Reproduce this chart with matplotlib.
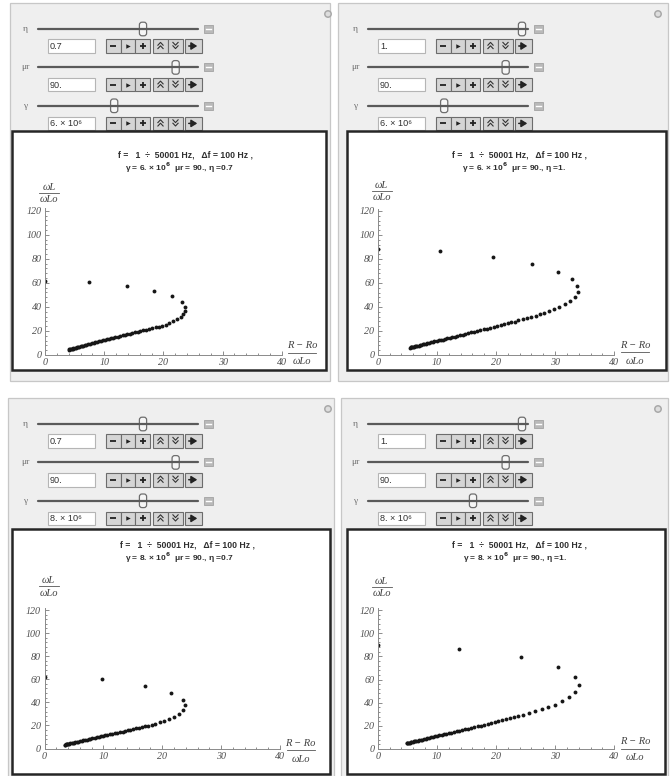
import numpy as np
import matplotlib
matplotlib.use("Agg")
import matplotlib.pyplot as plt
from matplotlib.patches import Rectangle, FancyBboxPatch, Circle

# ---- parameter values of the four panels ----
eta_vals = [0.7, 1.0, 0.7, 1.0]
eta_text = ["0.7", "1.", "0.7", "1."]
mur_vals = [90.0, 90.0, 90.0, 90.0]
mur_text = ["90.", "90.", "90.", "90."]
gamma_vals = [6e6, 6e6, 8e6, 8e6]
gamma_mant = ["6.", "6.", "8.", "8."]

# ---- computed points (R-Ro)/wLo , wL/wLo ----
tl_x = [4.0, 4.1, 4.2, 4.35, 4.5, 4.65, 4.8, 5.0, 5.2, 5.4, 5.6, 5.8, 6.0, 6.25, 6.5, 6.75,
        7.0, 7.3, 7.6, 7.9, 8.2, 8.5, 8.8, 9.1, 9.4, 9.75, 10.1, 10.45, 10.8, 11.15, 11.5,
        11.9, 12.3, 12.7, 13.1, 13.5, 13.9, 14.3, 14.75, 15.2, 15.65, 16.1, 16.6, 17.1, 17.6,
        18.1, 18.7, 19.3, 19.8, 20.4, 21.0, 21.7, 22.3, 22.9, 23.4, 23.7, 23.7, 23.1, 21.5,
        18.5, 13.8, 7.5, 0.0]
tl_y = [4.5, 4.6, 4.8, 5.0, 5.2, 5.4, 5.6, 5.9, 6.1, 6.4, 6.7, 6.9, 7.2, 7.5, 7.8, 8.2,
        8.5, 8.9, 9.3, 9.7, 10.1, 10.5, 10.9, 11.3, 11.7, 12.1, 12.6, 13.0, 13.4, 13.9, 14.3,
        14.8, 15.3, 15.8, 16.3, 16.8, 17.3, 17.8, 18.3, 18.9, 19.4, 19.9, 20.5, 21.0, 21.6,
        22.2, 22.9, 23.5, 24.3, 25.3, 26.6, 28.1, 29.6, 31.6, 34.0, 36.8, 40.2, 44.3, 49.0,
        53.2, 57.4, 60.5, 61.8]

tr_x = [5.5, 5.6, 5.7, 5.85, 6.0, 6.15, 6.3, 6.5, 6.7, 6.9, 7.1, 7.35, 7.6, 7.85, 8.1, 8.4,
        8.7, 9.0, 9.3, 9.6, 9.95, 10.3, 10.65, 11.0, 11.4, 11.8, 12.2, 12.6, 13.0, 13.45, 13.9,
        14.35, 14.8, 15.3, 15.8, 16.3, 16.8, 17.35, 17.9, 18.45, 19.0, 19.6, 20.2, 20.8, 21.4,
        22.0, 22.6, 23.2, 23.8, 24.5, 25.3, 26.0, 26.7, 27.4, 28.1, 28.9, 29.8, 30.7, 31.7,
        32.5, 33.3, 33.8, 33.7, 32.8, 30.4, 26.1, 19.5, 10.5, 0.0]
tr_y = [6.2, 6.3, 6.4, 6.6, 6.8, 7.0, 7.2, 7.4, 7.7, 7.9, 8.2, 8.5, 8.8, 9.1, 9.4, 9.8,
        10.2, 10.6, 10.9, 11.3, 11.7, 12.1, 12.5, 12.9, 13.4, 13.9, 14.4, 14.9, 15.4, 15.9, 16.5,
        17.0, 17.6, 18.2, 18.8, 19.4, 20.0, 20.6, 21.3, 21.9, 22.6, 23.3, 24.0, 24.8, 25.5,
        26.3, 27.1, 27.9, 28.8, 29.7, 30.6, 31.4, 32.8, 33.9, 35.3, 36.7, 38.1, 40.0, 42.2,
        45.3, 48.6, 52.5, 57.5, 63.1, 69.2, 76.1, 81.9, 86.7, 88.3]

bl_x = [3.4, 3.5, 3.6, 3.75, 3.9, 4.05, 4.2, 4.4, 4.6, 4.8, 5.0, 5.25, 5.5, 5.75, 6.0, 6.3,
        6.6, 6.9, 7.2, 7.5, 7.8, 8.15, 8.5, 8.85, 9.2, 9.55, 9.9, 10.3, 10.7, 11.1, 11.5,
        11.9, 12.35, 12.8, 13.25, 13.7, 14.15, 14.6, 15.1, 15.6, 16.1, 16.6, 17.1, 17.65,
        18.2, 18.8, 19.6, 20.3, 21.1, 22.0, 22.9, 23.5, 23.9, 23.5, 21.5, 17.1, 9.8, 0.0]
bl_y = [3.3, 3.4, 3.5, 3.7, 3.9, 4.0, 4.2, 4.4, 4.7, 4.9, 5.1, 5.4, 5.7, 6.0, 6.3, 6.6,
        7.0, 7.3, 7.7, 8.0, 8.4, 8.8, 9.2, 9.6, 10.0, 10.4, 10.8, 11.3, 11.7, 12.2, 12.7,
        13.1, 13.7, 14.2, 14.7, 15.3, 15.8, 16.3, 16.9, 17.5, 18.1, 18.7, 19.3, 19.9,
        20.5, 21.5, 22.8, 24.1, 25.7, 27.6, 30.0, 33.2, 37.4, 42.4, 48.5, 54.5, 60.0, 62.0]

br_x = [4.9, 5.0, 5.1, 5.25, 5.4, 5.55, 5.7, 5.9, 6.1, 6.3, 6.5, 6.75, 7.0, 7.25, 7.5, 7.8,
        8.1, 8.4, 8.7, 9.0, 9.35, 9.7, 10.05, 10.4, 10.8, 11.2, 11.6, 12.0, 12.45, 12.9, 13.35,
        13.8, 14.3, 14.8, 15.3, 15.8, 16.35, 16.9, 17.45, 18.0, 18.6, 19.2, 19.8, 20.4, 21.05,
        21.7, 22.35, 23.0, 23.7, 24.6, 25.6, 26.6, 27.7, 28.8, 30.0, 31.2, 32.4, 33.4, 34.0,
        33.4, 30.5, 24.3, 13.8, 0.0]
br_y = [5.0, 5.1, 5.2, 5.4, 5.6, 5.8, 6.0, 6.2, 6.5, 6.7, 7.0, 7.3, 7.6, 7.9, 8.2, 8.6,
        9.0, 9.3, 9.7, 10.1, 10.5, 10.9, 11.3, 11.7, 12.2, 12.7, 13.2, 13.6, 14.2, 14.7, 15.3,
        15.8, 16.4, 17.0, 17.6, 18.2, 18.9, 19.6, 20.2, 20.9, 21.7, 22.4, 23.2, 24.0, 24.8,
        25.7, 26.6, 27.5, 28.5, 29.7, 31.0, 32.5, 34.2, 36.0, 38.4, 41.3, 45.2, 49.6, 55.2,
        62.5, 70.6, 79.4, 86.6, 90.0]

series_x = [tl_x, tr_x, bl_x, br_x]
series_y = [tl_y, tr_y, bl_y, br_y]

x_ticks = [0, 10, 20, 30, 40]
y_ticks = [0, 20, 40, 60, 80, 100, 120]

# slider ranges (used to place the thumbs)
ETA_RANGE = (0.1, 1.0)
MUR_RANGE = (10.0, 100.0)
GAMMA_RANGE = (1.2e6, 11.4e6)

# pixel layout of each manipulate panel
layouts = [
    dict(dx=0, dy=0, box=(10, 3, 330, 381), frame=(12, 131, 326, 370),
         t1=(185, 155), t2=(179, 168), ax=(45, 281.7, 355, 210.7), ylab=193, xlab=352.5),
    dict(dx=330, dy=0, box=(338, 3, 668, 381), frame=(347, 131, 666, 370),
         t1=(520, 155), t2=(514, 168), ax=(377.7, 614.3, 355, 211), ylab=191, xlab=352),
    dict(dx=0, dy=395, box=(8, 398, 334, 777), frame=(12, 529, 330, 774),
         t1=(187, 545), t2=(179, 558), ax=(44.5, 280, 748.5, 610), ylab=586, xlab=750),
    dict(dx=330, dy=395, box=(341, 398, 668, 777), frame=(347, 529, 665, 774),
         t1=(520, 545), t2=(515, 558), ax=(377.7, 614.3, 749, 610), ylab=587, xlab=748.5),
]

W, H = 670, 776
SANS = ["Liberation Sans", "DejaVu Sans"]
SERIF = ["Liberation Serif", "DejaVu Serif"]

fig = plt.figure(figsize=(W / 100, H / 100), dpi=100)
fig.patch.set_facecolor("white")
ui = fig.add_axes([0, 0, 1, 1])
ui.set_xlim(0, W)
ui.set_ylim(H, 0)
ui.axis("off")


def button_cell(x0, x1, cy, kind):
    ui.add_patch(Rectangle((x0, cy - 6.8), x1 - x0, 13.6, facecolor="#d5d5d5",
                           edgecolor="#6c6c6c", lw=0.8))
    cx = (x0 + x1) / 2
    if kind == "minus":
        ui.plot([cx - 3, cx + 3], [cy, cy], color="#222", lw=1.3, solid_capstyle="butt")
    elif kind == "plus":
        ui.plot([cx - 3, cx + 3], [cy, cy], color="#222", lw=1.3, solid_capstyle="butt")
        ui.plot([cx, cx], [cy - 3, cy + 3], color="#222", lw=1.3, solid_capstyle="butt")
    elif kind == "play":
        ui.plot([cx], [cy], marker=">", ms=3.2, color="#222", mew=0)
    elif kind in ("up", "down"):
        s = -1 if kind == "up" else 1
        for off in (-2.2, 1.2):
            yb = cy + off
            ui.plot([cx - 2.6, cx, cx + 2.6], [yb - s * 1.4, yb + s * 1.4, yb - s * 1.4],
                    color="#333", lw=0.8)
    elif kind == "arrow":
        ui.annotate("", xy=(cx + 4, cy), xytext=(cx - 4.5, cy),
                    arrowprops=dict(arrowstyle="-|>,head_length=0.35,head_width=0.22",
                                    color="#222", lw=1.1, shrinkA=0, shrinkB=0))


def draw_controls(dx, dy, k):
    rows = [("η", eta_vals[k], ETA_RANGE, eta_text[k]),
            ("μr", mur_vals[k], MUR_RANGE, mur_text[k]),
            ("γ", gamma_vals[k], GAMMA_RANGE, gamma_mant[k] + " × 10⁶")]
    for i, (lab, val, rng, txt) in enumerate(rows):
        sy = dy + 29 + 38.4 * i
        fy = dy + 46 + 38.7 * i
        ui.text(dx + 25, sy, lab, ha="center", va="center", fontsize=6.8,
                family=SERIF, color="#707070")
        # slider track and thumb
        ui.plot([dx + 38, dx + 198], [sy, sy], color="#5a5a5a", lw=1.6,
                solid_capstyle="round")
        frac = (val - rng[0]) / (rng[1] - rng[0])
        tx = dx + 45 + frac * 147
        ui.add_patch(FancyBboxPatch((tx - 3.6, sy - 6.8), 7.2, 13.6,
                                    boxstyle="round,pad=0,rounding_size=2.6",
                                    facecolor="#f6f6f6", edgecolor="#6e6e6e", lw=0.9))
        # small collapse box
        ui.add_patch(Rectangle((dx + 204, sy - 4.2), 9, 8, facecolor="#b9b9b9",
                               edgecolor="#a2a2a2", lw=0.6))
        ui.plot([dx + 206, dx + 211], [sy - 0.2, sy - 0.2], color="white", lw=1.0)
        # input field
        ui.add_patch(Rectangle((dx + 48, fy - 6.8), 47, 13.6, facecolor="white",
                               edgecolor="#b5b5b5", lw=0.8))
        ui.text(dx + 50, fy + 0.5, txt, ha="left", va="center", fontsize=6.6,
                family=SANS, color="#303030")
        # animator buttons
        for (x0, x1), kind in zip([(106, 120.7), (120.7, 135.3), (135.3, 150),
                                   (153, 168), (168, 183), (184.5, 202)],
                                  ["minus", "play", "plus", "up", "down", "arrow"]):
            button_cell(dx + x0, dx + x1, fy, kind)
    ui.add_patch(Circle((dx + 328, dy + 14), 3.2, facecolor="#dddddd",
                        edgecolor="#a9a9a9", lw=1.1))


for k, lay in enumerate(layouts):
    bx0, by0, bx1, by1 = lay["box"]
    ui.add_patch(Rectangle((bx0, by0), bx1 - bx0, by1 - by0, facecolor="#efefef",
                           edgecolor="#c7c7c7", lw=0.9))
    draw_controls(lay["dx"], lay["dy"], k)

    fx0, fy0, fx1, fy1 = lay["frame"]
    ui.add_patch(Rectangle((fx0, fy0), fx1 - fx0, fy1 - fy0, facecolor="white",
                           edgecolor="#262626", lw=1.8))

    # two-line plot label
    ui.text(*lay["t1"], "f =   1  ÷  50001 Hz,   Δf = 100 Hz ,", ha="center",
            va="center", fontsize=6.2, fontweight="bold", family=SANS, color="#2e2e2e")
    ui.text(*lay["t2"], f"γ = {gamma_mant[k]} × 10$^{{\\mathbf{{6}}}}$  μr = {mur_text[k]}, η ={eta_text[k]}",
            ha="center", va="center", fontsize=6.0, fontweight="bold", family=SANS,
            color="#2e2e2e")

    x0p, x40p, y0p, y120p = lay["ax"]
    ppu = (y0p - y120p) / 120.0
    ytop = y0p - 122 * ppu
    ax = fig.add_axes([x0p / W, 1 - y0p / H, (x40p - x0p) / W, (y0p - ytop) / H])
    ax.set_facecolor("none")
    ax.plot(series_x[k], series_y[k], "o", ms=2.8, color="#161616", mew=0)
    ax.set_xlim(0, 40)
    ax.set_ylim(0, 122)
    for side in ("top", "right"):
        ax.spines[side].set_visible(False)
    for side in ("left", "bottom"):
        ax.spines[side].set_color("#8a8a8a")
        ax.spines[side].set_linewidth(0.7)
    tick_font = dict(family=SERIF, style="italic", size=7.2, color="#505050")
    ax.set_xticks(x_ticks, labels=[str(v) for v in x_ticks], **tick_font)
    ax.set_yticks(y_ticks, labels=[str(v) for v in y_ticks], **tick_font)
    ax.set_xticks(np.arange(0, 41, 2), minor=True)
    ax.set_yticks(np.arange(0, 121, 4), minor=True)
    ax.tick_params(which="both", direction="in", color="#7a7a7a", width=0.6)
    ax.tick_params(which="major", length=2.6, pad=2.5)
    ax.tick_params(which="minor", length=1.4)

    # fraction-style axis labels
    lab_font = dict(family=SERIF, style="italic", fontsize=7.6, color="#404040",
                    ha="center", va="center")
    cx = x0p + 4
    ui.text(cx, lay["ylab"] - 5.5, "ωL", **lab_font)
    ui.plot([cx - 10, cx + 10], [lay["ylab"], lay["ylab"]], color="#555", lw=0.6)
    ui.text(cx, lay["ylab"] + 7, "ωLo", **lab_font)
    cx = x40p + 20.5
    ui.text(cx, lay["xlab"] - 7, "R − Ro", **lab_font)
    ui.plot([cx - 14, cx + 14], [lay["xlab"], lay["xlab"]], color="#555", lw=0.6)
    ui.text(cx, lay["xlab"] + 9, "ωLo", **lab_font)

fig.savefig("out.png", dpi=100)
